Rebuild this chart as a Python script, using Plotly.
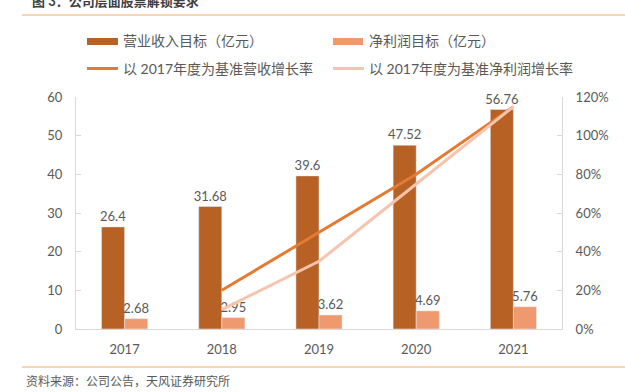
import plotly.graph_objects as go

years = ["2017", "2018", "2019", "2020", "2021"]
revenue = [26.4, 31.68, 39.6, 47.52, 56.76]
profit = [2.68, 2.95, 3.62, 4.69, 5.76]
growth_years = ["2018", "2019", "2020", "2021"]
rev_growth = [0.20, 0.50, 0.80, 1.15]
profit_growth = [0.10, 0.35, 0.75, 1.15]

names = ["营业收入目标（亿元）", "净利润目标（亿元）",
         "以 2017年度为基准营收增长率", "以 2017年度为基准净利润增长率"]
title_text = "图 3：公司层面股票解锁要求"
source_text = "资料来源：公司公告，天风证券研究所"

C_REV = "#B86124"
C_PROF = "#EF9A6E"
C_LREV = "#E37B35"
C_LPROF = "#F6C3AD"
GREY = "#595959"
AXIS = "#D9D9D9"
RULE = "#F8C496"
FONT = "Lato, 'Noto Sans CJK SC', sans-serif"

W, H = 625, 392
L, R, T, B = 76, 562, 97, 329

def px(x):
    return (x - L) / (R - L)

def py(y):
    return (B - y) / (B - T)

fig = go.Figure()
fig.add_trace(go.Bar(x=years, y=revenue, name=names[0], marker_color=C_REV,
                     text=[str(v) for v in revenue], textposition="outside",
                     constraintext="none",
                     textfont=dict(size=13, color=GREY), cliponaxis=False,
                     showlegend=False))
fig.add_trace(go.Bar(x=years, y=profit, name=names[1], marker_color=C_PROF,
                     text=[str(v) for v in profit], textposition="outside",
                     constraintext="none",
                     textfont=dict(size=13, color=GREY), cliponaxis=False,
                     showlegend=False))
fig.add_trace(go.Scatter(x=growth_years, y=rev_growth, name=names[2], mode="lines",
                         line=dict(color=C_LREV, width=3), yaxis="y2", showlegend=False))
fig.add_trace(go.Scatter(x=growth_years, y=profit_growth, name=names[3], mode="lines",
                         line=dict(color=C_LPROF, width=3), yaxis="y2", showlegend=False))

shapes = [
    dict(type="line", xref="paper", yref="paper", x0=px(22), x1=px(625), y0=py(15), y1=py(15),
         line=dict(color=RULE, width=1.5)),
    dict(type="line", xref="paper", yref="paper", x0=px(22), x1=px(625), y0=py(367), y1=py(367),
         line=dict(color=RULE, width=1.5)),
    dict(type="rect", xref="paper", yref="paper", x0=px(87), x1=px(118), y0=py(45), y1=py(38),
         fillcolor=C_REV, line=dict(width=0)),
    dict(type="rect", xref="paper", yref="paper", x0=px(333), x1=px(363), y0=py(45), y1=py(38),
         fillcolor=C_PROF, line=dict(width=0)),
    dict(type="line", xref="paper", yref="paper", x0=px(87), x1=px(118), y0=py(68.5), y1=py(68.5),
         line=dict(color=C_LREV, width=3)),
    dict(type="line", xref="paper", yref="paper", x0=px(333), x1=px(364), y0=py(68.5), y1=py(68.5),
         line=dict(color=C_LPROF, width=3)),
]

annotations = [
    dict(text=names[0], xref="paper", yref="paper", x=px(121), y=py(41), xanchor="left",
         yanchor="middle", showarrow=False, font=dict(size=14, color=GREY, family=FONT)),
    dict(text=names[1], xref="paper", yref="paper", x=px(367), y=py(41), xanchor="left",
         yanchor="middle", showarrow=False, font=dict(size=14, color=GREY, family=FONT)),
    dict(text=names[2], xref="paper", yref="paper", x=px(121), y=py(68.5), xanchor="left",
         yanchor="middle", showarrow=False, font=dict(size=14, color=GREY, family=FONT)),
    dict(text=names[3], xref="paper", yref="paper", x=px(367), y=py(68.5), xanchor="left",
         yanchor="middle", showarrow=False, font=dict(size=14, color=GREY, family=FONT)),
    dict(text="<b>" + title_text + "</b>", xref="paper", yref="paper", x=px(30), y=py(1),
         xanchor="left", yanchor="middle", showarrow=False,
         font=dict(size=13, color="#404040", family=FONT)),
    dict(text=source_text, xref="paper", yref="paper", x=px(24), y=py(381),
         xanchor="left", yanchor="middle", showarrow=False,
         font=dict(size=12, color=GREY, family=FONT)),
]

fig.update_layout(
    width=W, height=H,
    margin=dict(l=L, r=W - R, t=T, b=H - B, pad=0),
    paper_bgcolor="white", plot_bgcolor="white",
    font=dict(family=FONT, color=GREY, size=13),
    barmode="group", bargap=0.525, bargroupgap=0,
    showlegend=False,
    shapes=shapes, annotations=annotations,
    xaxis=dict(type="category", showgrid=False, showline=True, linecolor=AXIS, linewidth=1,
               ticks="", tickfont=dict(size=13, color=GREY), ticklabelstandoff=8, zeroline=False),
    yaxis=dict(range=[0, 60], dtick=10, showgrid=False, showline=True, linecolor=AXIS,
               linewidth=1, ticks="inside", ticklen=5, tickcolor=AXIS,
               tickfont=dict(size=13, color=GREY), ticklabelstandoff=10, zeroline=False),
    yaxis2=dict(range=[0, 1.2], dtick=0.2, tickformat=".0%", overlaying="y", side="right",
                showgrid=False, showline=True, linecolor=AXIS, linewidth=1, ticks="inside",
                ticklen=5, tickcolor=AXIS, tickfont=dict(size=13, color=GREY),
                ticklabelstandoff=10, zeroline=False),
)

fig.write_html("out.html", config={"displayModeBar": False},
               post_script="document.body.style.margin='0';")
